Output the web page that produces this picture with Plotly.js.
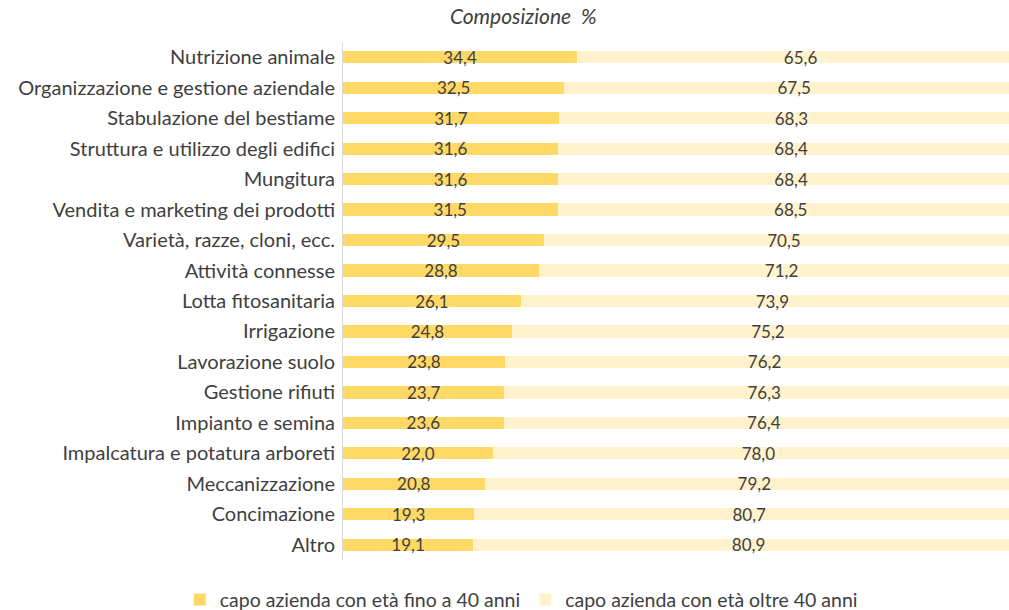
<!DOCTYPE html>
<html>
<head>
<meta charset="utf-8">
<script src="https://cdn.plot.ly/plotly-3.0.1.min.js"></script>
<style>
  html, body { margin: 0; padding: 0; overflow: hidden; background: white; }
  #chart { width: 1024px; height: 610px; }
</style>
</head>
<body>
<div id="chart"></div>
<script>
const categories = [
  "Nutrizione animale",
  "Organizzazione e gestione aziendale",
  "Stabulazione del bestiame",
  "Struttura e utilizzo degli edifici",
  "Mungitura",
  "Vendita e marketing dei prodotti",
  "Varietà, razze, cloni, ecc.",
  "Attività connesse",
  "Lotta fitosanitaria",
  "Irrigazione",
  "Lavorazione suolo",
  "Gestione rifiuti",
  "Impianto e semina",
  "Impalcatura e potatura arboreti",
  "Meccanizzazione",
  "Concimazione",
  "Altro"
];
const fino40 = [34.4, 32.5, 31.7, 31.6, 31.6, 31.5, 29.5, 28.8, 26.1, 24.8, 23.8, 23.7, 23.6, 22.0, 20.8, 19.3, 19.1];
const oltre40 = [65.6, 67.5, 68.3, 68.4, 68.4, 68.5, 70.5, 71.2, 73.9, 75.2, 76.2, 76.3, 76.4, 78.0, 79.2, 80.7, 80.9];
const seriesNames = ["capo azienda con età fino a 40 anni", "capo azienda con età oltre 40 anni"];

const labelFont = { family: "Lato, sans-serif", size: 17, color: "#404040" };

function barTrace(values, name, color) {
  return {
    type: "bar",
    orientation: "h",
    x: values,
    y: categories,
    name: name,
    marker: { color: color },
    texttemplate: "%{x:.1f}",
    textposition: "inside",
    insidetextanchor: "middle",
    textangle: 0,
    constraintext: "none",
    insidetextfont: labelFont,
    hoverinfo: "skip"
  };
}

Plotly.newPlot(
  "chart",
  [
    barTrace(fino40, seriesNames[0], "#FFD966"),
    barTrace(oltre40, seriesNames[1], "#FFF2CC")
  ],
  {
    width: 1024,
    height: 610,
    barmode: "stack",
    bargap: 0.6,
    separators: ",.",
    margin: { l: 343, r: 0, t: 42, b: 50, autoexpand: false },
    paper_bgcolor: "white",
    plot_bgcolor: "white",
    font: { family: "Lato, sans-serif", color: "#404040" },
    title: {
      text: "Composizione  %",
      font: { family: "Lato, sans-serif", size: 21, style: "italic", color: "#404040" },
      xref: "container",
      x: 0.511,
      xanchor: "center",
      yref: "container",
      y: 0.972,
      yanchor: "middle"
    },
    xaxis: {
      range: [0, 100],
      visible: false,
      showgrid: false,
      zeroline: false
    },
    yaxis: {
      autorange: "reversed",
      showline: true,
      linecolor: "#d9d9d9",
      linewidth: 1,
      ticks: "",
      ticklabelstandoff: 3,
      tickfont: { family: "Lato, sans-serif", size: 20, color: "#404040" },
      showgrid: false
    },
    showlegend: true,
    legend: {
      orientation: "h",
      xref: "container",
      x: 0.509,
      xanchor: "center",
      y: -0.039,
      yanchor: "top",
      traceorder: "normal",
      itemwidth: 30,
      font: { family: "Lato, sans-serif", size: 19.5, color: "#404040" }
    }
  },
  { displayModeBar: false, staticPlot: true }
);
</script>
</body>
</html>
